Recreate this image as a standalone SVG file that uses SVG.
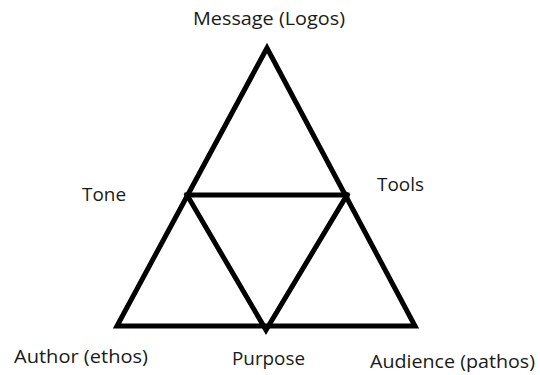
<svg xmlns="http://www.w3.org/2000/svg" width="540" height="375" viewBox="0 0 540 375">
<style>
.l{fill:none;stroke:#000;stroke-width:5;stroke-linejoin:miter;stroke-linecap:square}
.t{font-family:"Open Sans","Liberation Sans",sans-serif;font-size:18px;fill:#1a1a1a}
</style>
<rect width="540" height="375" fill="#fff"/>
<g id="connectors">
<polygon class="l" points="267,48 117,326 415,326"/>
<line class="l" x1="187" y1="195" x2="347" y2="195"/>
<polyline class="l" points="187,195 266,330 347,195" stroke-linejoin="miter"/>
</g>
<g id="message"><text class="t" x="193" y="25" textLength="152" lengthAdjust="spacingAndGlyphs">Message (Logos)</text></g>
<g id="tone"><text class="t" x="82" y="201" textLength="44" lengthAdjust="spacingAndGlyphs">Tone</text></g>
<g id="tools"><text class="t" x="377" y="191" textLength="47" lengthAdjust="spacingAndGlyphs">Tools</text></g>
<g id="author"><text class="t" x="14" y="363" textLength="134" lengthAdjust="spacingAndGlyphs">Author (ethos)</text></g>
<g id="purpose"><text class="t" x="232" y="365" textLength="73" lengthAdjust="spacingAndGlyphs">Purpose</text></g>
<g id="audience"><text class="t" x="370" y="368" textLength="165" lengthAdjust="spacingAndGlyphs">Audience (pathos)</text></g>
</svg>
